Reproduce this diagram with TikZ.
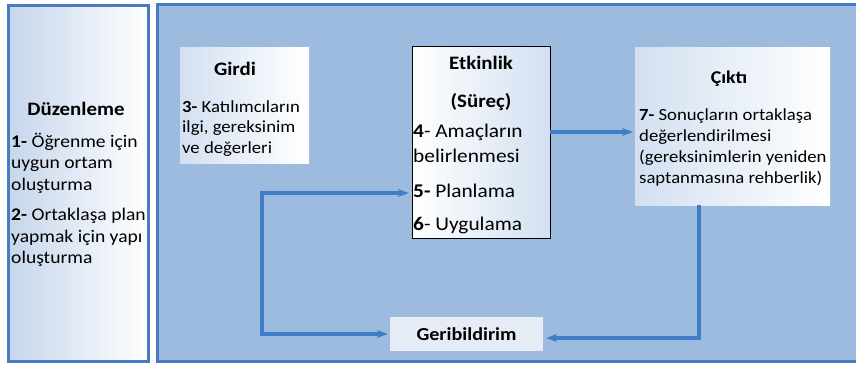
\documentclass[tikz,border=0pt]{standalone}
\usepackage{fontspec}
\setmainfont{Carlito}[FakeStretch=1.1]
\usetikzlibrary{arrows.meta}
\definecolor{mainblue}{HTML}{9DBADF}
\definecolor{edgeblue}{HTML}{4A7BC0}
\definecolor{arrowblue}{HTML}{3F7DC6}
\definecolor{paleblue}{HTML}{C6D6EC}
\definecolor{paleblue2}{HTML}{D3E0F1}
\definecolor{geribg}{HTML}{E5ECF6}
\begin{document}
\begin{tikzpicture}[x=1pt,y=-1pt,
  panel/.style={rectangle,inner sep=0,line width=3pt,draw=edgeblue},
  card/.style={rectangle,inner sep=0,left color=paleblue2,right color=white},
  ln/.style={anchor=base west,inner sep=0,font=\fontsize{17}{19}\selectfont},
  lnl/.style={ln,font=\fontsize{17.8}{20}\selectfont},
  lne/.style={ln,font=\fontsize{19.4}{21}\selectfont},
  ttl/.style={anchor=base,inner sep=0,font=\bfseries\fontsize{19}{21}\selectfont},
  flow/.style={draw=arrowblue,line width=3.5pt,-{Stealth[length=11pt,width=8pt]}},
  flowtwo/.style={draw=arrowblue,line width=3.5pt,{Stealth[length=11pt,width=8pt]}-{Stealth[length=11pt,width=8pt]}}
]
\useasboundingbox (0,0) rectangle (856,367);
\fill[white] (0,0) rectangle (856,367);
% panels
\node[panel,fill=mainblue,minimum width=701pt,minimum height=357pt] (main) at (507.5,182.5) {};
\node[panel,left color=paleblue,right color=white,minimum width=140pt,minimum height=356pt] (duz) at (78,183) {};
% cards
\node[card,minimum width=129pt,minimum height=116pt] (gir) at (244.5,105) {};
\node[card,left color=white,right color=paleblue2,draw=black,line width=0.8pt,minimum width=138pt,minimum height=192pt] (etk) at (481,142) {};
\node[card,minimum width=195pt,minimum height=158pt] (cik) at (732.5,126) {};
\node[rectangle,inner sep=0,fill=geribg,minimum width=153pt,minimum height=34pt,font=\bfseries\fontsize{18.3}{20}\selectfont] (geri) at (466.5,334) {Geribildirim};
% left panel text
\node[ttl] (dt) at (76,115) {Düzenleme};
\node[lnl] (d1) at (11,147) {\textbf{1-} Öğrenme için};
\node[lnl] (d2) at (11,168) {uygun ortam};
\node[lnl] (d3) at (11,190) {oluşturma};
\node[lnl] (d4) at (11,220) {\textbf{2-} Ortaklaşa plan};
\node[lnl] (d5) at (11,242) {yapmak için yapı};
\node[lnl] (d6) at (11,263) {oluşturma};
% girdi
\node[ttl] (gt) at (235,75) {Girdi};
\node[ln] (g1) at (182,112) {\textbf{3-} Katılımcıların};
\node[ln] (g2) at (182,132) {ilgi, gereksinim};
\node[ln] (g3) at (182,153) {ve değerleri};
% etkinlik
\node[ttl] (et) at (481,69) {Etkinlik};
\node[ttl] (es) at (481,107) {(Süreç)};
\node[lne] (e1) at (413,137) {\textbf{4}- Amaçların};
\node[lne] (e2) at (413,162) {belirlenmesi};
\node[lne] (e3) at (413,197) {\textbf{5-} Planlama};
\node[lne] (e4) at (413,230) {\textbf{6}- Uygulama};
% cikti
\node[ttl,font=\bfseries\fontsize{18}{20}\selectfont] (ct) at (729,83) {Çıktı};
\node[ln] (c1) at (639,120) {\textbf{7-} Sonuçların ortaklaşa};
\node[ln] (c2) at (639,141) {değerlendirilmesi};
\node[ln] (c3) at (639,162) {(gereksinimlerin yeniden};
\node[ln] (c4) at (639,183) {saptanmasına rehberlik)};
% connectors
\coordinate (lc) at (262,193);
\draw[flow,shorten >=2pt] ([yshift=10pt]etk.east) -- ([yshift=10pt]etk.east -| cik.west);
\draw[flowtwo,shorten <=3pt,shorten >=2pt] ([yshift=-51pt]etk.west) -- (lc) |- (geri.west);
\draw[flow,shorten >=3pt] ([xshift=-33.5pt]cik.south) |- ([yshift=-4pt]geri.east);
\end{tikzpicture}
\end{document}
